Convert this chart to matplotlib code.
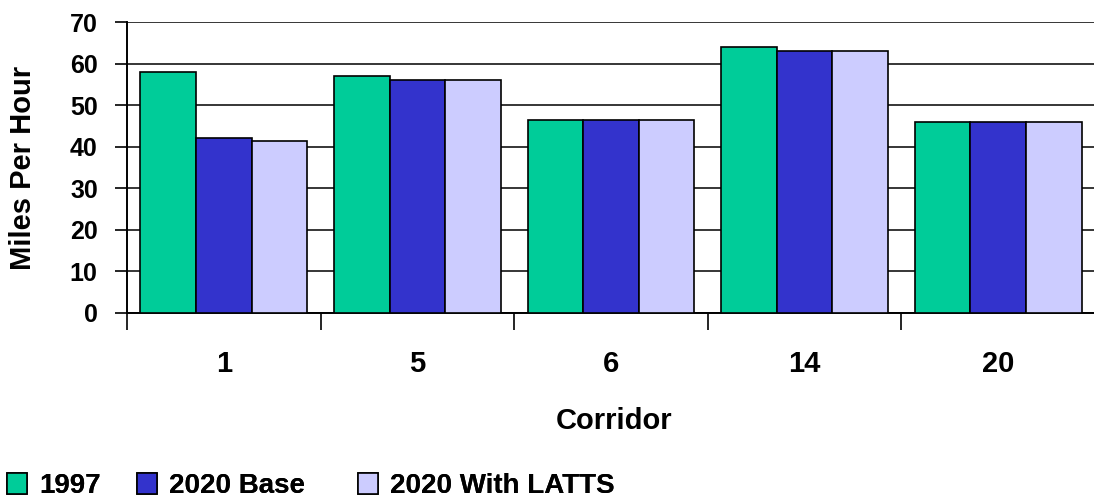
import numpy as np
import matplotlib.pyplot as plt
from matplotlib.patches import Patch

plt.rcParams.update({"font.family": ["Liberation Sans", "DejaVu Sans"], "font.weight": "bold"})

corridors = ["1", "5", "6", "14", "20"]
series_names = ["1997", "2020 Base", "2020 With LATTS"]
speed_1997 = [58, 57, 46.5, 64, 46]
speed_2020_base = [42, 56, 46.5, 63, 46]
speed_2020_latts = [41.5, 56, 46.5, 63, 46]
colors = ["#00CC99", "#3333CC", "#CCCCFF"]


def main():
    fig = plt.figure(figsize=(10.94, 5.03), dpi=100)
    ax = fig.add_axes([0.116, 0.378, 0.885, 0.578])

    x = np.arange(len(corridors))
    width = 0.287
    values = [speed_1997, speed_2020_base, speed_2020_latts]
    for i, (vals, c) in enumerate(zip(values, colors)):
        ax.bar(x + (i - 1) * width, vals, width, color=c, edgecolor="black",
               linewidth=1.2, zorder=3)

    ax.set_xlim(-0.5, len(corridors) - 0.5)
    ax.set_ylim(0, 70)
    ax.set_yticks(np.arange(0, 71, 10))
    ax.yaxis.grid(True, color="black", linewidth=1.1, zorder=0)

    ax.set_xticks(x)
    ax.set_xticklabels(corridors, fontsize=21, fontweight="bold")
    ax.set_xticks(np.arange(-0.5, len(corridors)), minor=True)
    ax.tick_params(axis="x", which="major", length=0, pad=27)
    ax.tick_params(axis="x", which="minor", length=12, width=1.2, direction="out")
    ax.tick_params(axis="y", length=9, width=1.2, labelsize=18, pad=12)
    for lab in ax.get_yticklabels():
        lab.set_fontweight("bold")

    for side in ["top", "right"]:
        ax.spines[side].set_visible(False)
    for side in ["left", "bottom"]:
        ax.spines[side].set_linewidth(1.4)

    fig.text(0.561, 0.163, "Corridor", ha="center", va="center",
             fontsize=21, fontweight="bold")
    fig.text(0.021, 0.667, "Miles Per Hour", ha="center", va="center",
             rotation=90, fontsize=21, fontweight="bold")

    # one legend per entry so each square sits where the reference has it
    legend_x = [0.006, 0.125, 0.327]
    for name, c, lx in zip(series_names, colors, legend_x):
        leg = fig.legend([Patch(facecolor=c, edgecolor="black", linewidth=1.2)], [name],
                         loc="lower left", bbox_to_anchor=(lx, 0.008), frameon=False,
                         prop={"size": 20, "weight": "bold"}, handlelength=0.72,
                         handleheight=0.8, handletextpad=0.45, borderpad=0,
                         borderaxespad=0)
        fig.add_artist(leg)

    fig.savefig("out.png", dpi=100)


if __name__ == "__main__":
    main()
